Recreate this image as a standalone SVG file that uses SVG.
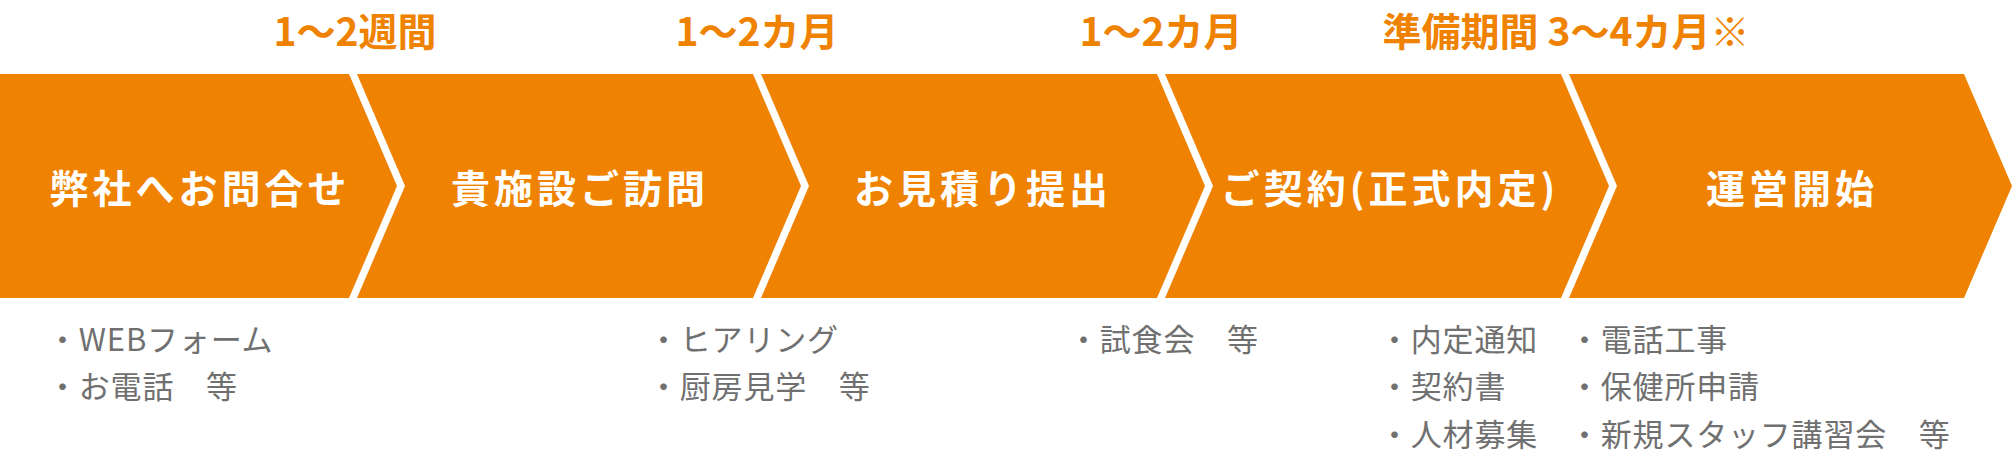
<svg xmlns="http://www.w3.org/2000/svg" width="2012" height="458" viewBox="0 0 2012 458">
<style>
.step{fill:#EF8200}
.title{font-family:"Noto Sans CJK JP","Noto Sans",sans-serif;font-weight:700;font-size:39px;fill:#FFFFFF;letter-spacing:4px;text-anchor:middle}
.dur{font-family:"Noto Sans CJK JP","Noto Sans",sans-serif;font-weight:700;font-size:39px;fill:#EF8200;text-anchor:middle}
.note{font-family:"Noto Sans CJK JP","Noto Sans",sans-serif;font-weight:400;font-size:31px;fill:#707070;letter-spacing:0.8px}
</style>
<rect width="2012" height="458" fill="#FFFFFF"/>
<g id="connectors"></g>
<g id="step1">
<polygon class="step" points="0,74 349,74 397,186 349,298 0,298"/>
<text class="title" x="200" y="203">弊社へお問合せ</text>
</g>
<g id="step2">
<polygon class="step" points="357,74 753,74 801,186 753,298 357,298 405,186"/>
<text class="title" x="580" y="203">貴施設ご訪問</text>
</g>
<g id="step3">
<polygon class="step" points="761,74 1157,74 1205,186 1157,298 761,298 809,186"/>
<text class="title" x="983" y="203">お見積り提出</text>
</g>
<g id="step4">
<polygon class="step" points="1165,74 1561,74 1609,186 1561,298 1165,298 1213,186"/>
<text class="title" x="1390" y="203">ご契約(正式内定)</text>
</g>
<g id="step5">
<polygon class="step" points="1569,74 1964,74 2012,186 1964,298 1569,298 1617,186"/>
<text class="title" x="1792" y="203">運営開始</text>
</g>
<g id="durations">
<text class="dur" x="355" y="46">1〜2週間</text>
<text class="dur" x="757" y="46">1〜2カ月</text>
<text class="dur" x="1161" y="46">1〜2カ月</text>
<text class="dur" x="1566" y="46">準備期間 3〜4カ月※</text>
</g>
<g id="notes">
<text class="note" x="47" y="351">・WEBフォーム</text>
<text class="note" x="47" y="398">・お電話　等</text>
<text class="note" x="648" y="351">・ヒアリング</text>
<text class="note" x="648" y="398">・厨房見学　等</text>
<text class="note" x="1068" y="351">・試食会　等</text>
<text class="note" x="1379" y="351">・内定通知</text>
<text class="note" x="1379" y="398">・契約書</text>
<text class="note" x="1379" y="446">・人材募集</text>
<text class="note" x="1569" y="351">・電話工事</text>
<text class="note" x="1569" y="398">・保健所申請</text>
<text class="note" x="1569" y="446">・新規スタッフ講習会　等</text>
</g>
</svg>
